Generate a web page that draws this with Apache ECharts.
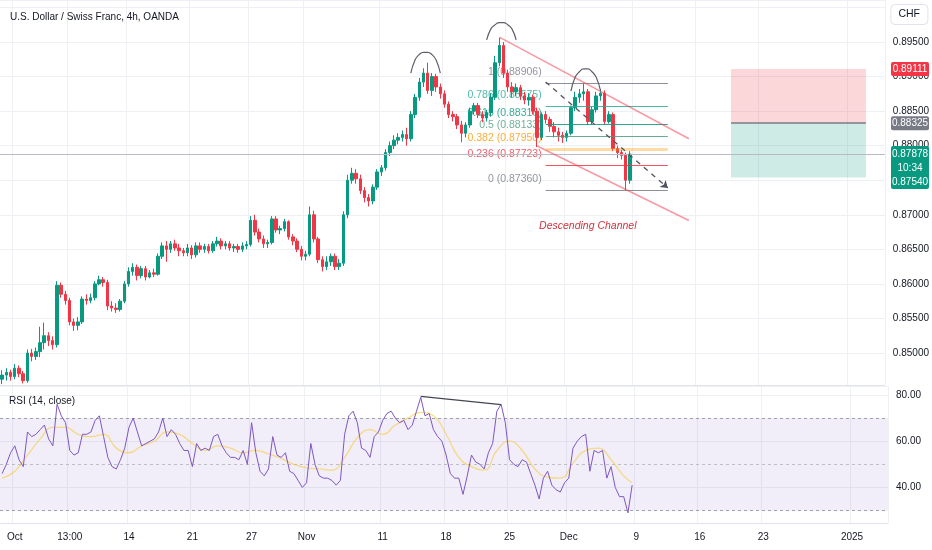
<!DOCTYPE html>
<html><head><meta charset="utf-8">
<script src="https://cdn.jsdelivr.net/npm/echarts@6/dist/echarts.min.js"></script>
<style>html,body{margin:0;padding:0;background:#fff}#c{width:932px;height:550px}</style>
</head><body><div id="c"></div>
<script>
// ---------- DATA ----------
const categoryCount = 210; // 8h slots, Sep 30 2024 .. early Jan 2025
const tickIndex = [3, 16, 30, 45, 59, 72, 90, 105, 120, 134, 150, 165, 180, 201];
const tickText  = ['Oct', '13:00', '14', '21', '27', 'Nov', '11', '18', '25', 'Dec', '9', '16', '23', '2025'];
const priceLabelMax = 0.8975; // labels above this sit under the CHF box

// [open, close, low, high]
const candles = [
[.8462,.8468,.8455,.8475],[.8468,.8472,.8460,.8478],[.8472,.8466,.8460,.8476],[.8466,.8478,.8462,.8484],
[.8478,.8470,.8465,.8482],[.8470,.8460,.8456,.8474],[.8460,.8500,.8457,.8505],[.8500,.8495,.8488,.8506],
[.8495,.8502,.8490,.8508],[.8502,.8515,.8494,.8538],[.8515,.8525,.8505,.8544],[.8525,.8518,.8510,.8530],
[.8518,.8512,.8505,.8524],[.8512,.8598,.8508,.8604],[.8598,.8585,.8580,.8602],[.8585,.8576,.8570,.8590],
[.8576,.8545,.8540,.8580],[.8545,.8540,.8532,.8550],[.8540,.8545,.8533,.8552],[.8545,.8578,.8542,.8582],
[.8578,.8576,.8570,.8585],[.8576,.8580,.8572,.8586],[.8580,.8600,.8576,.8604],[.8600,.8606,.8598,.8612],
[.8606,.8602,.8596,.8610],[.8602,.8568,.8562,.8606],[.8568,.8565,.8560,.8575],[.8565,.8563,.8558,.8572],
[.8563,.8575,.8560,.8578],[.8575,.8600,.8572,.8604],[.8600,.8618,.8596,.8624],[.8618,.8624,.8612,.8630],
[.8624,.8612,.8605,.8628],[.8612,.8622,.8608,.8626],[.8622,.8610,.8605,.8626],[.8610,.8616,.8608,.8620],
[.8616,.8614,.8610,.8622],[.8614,.8640,.8612,.8644],[.8640,.8655,.8636,.8660],[.8655,.8650,.8632,.8662],
[.8650,.8658,.8645,.8662],[.8658,.8652,.8648,.8664],[.8652,.8648,.8640,.8658],[.8648,.8645,.8640,.8652],
[.8645,.8652,.8640,.8658],[.8652,.8642,.8636,.8656],[.8642,.8655,.8638,.8660],[.8655,.8650,.8645,.8660],
[.8650,.8654,.8645,.8658],[.8654,.8648,.8644,.8658],[.8648,.8658,.8645,.8662],[.8658,.8662,.8654,.8668],
[.8662,.8655,.8650,.8666],[.8655,.8658,.8650,.8662],[.8658,.8652,.8648,.8662],[.8652,.8654,.8646,.8658],
[.8654,.8650,.8645,.8658],[.8650,.8655,.8646,.8660],[.8655,.8657,.8650,.8662],[.8657,.8692,.8654,.8698],
[.8692,.8675,.8670,.8700],[.8675,.8665,.8660,.8680],[.8665,.8658,.8652,.8670],[.8658,.8660,.8652,.8664],
[.8660,.8694,.8657,.8698],[.8694,.8678,.8674,.8698],[.8678,.8680,.8672,.8684],[.8680,.8690,.8676,.8694],
[.8690,.8668,.8664,.8692],[.8668,.8662,.8656,.8672],[.8662,.8650,.8646,.8666],[.8650,.8640,.8634,.8655],
[.8640,.8643,.8634,.8648],[.8643,.8700,.8640,.8712],[.8700,.8665,.8660,.8706],[.8665,.8635,.8630,.8668],
[.8635,.8625,.8618,.8640],[.8625,.8632,.8620,.8640],[.8632,.8640,.8626,.8644],[.8640,.8625,.8620,.8644],
[.8625,.8630,.8620,.8636],[.8630,.8700,.8626,.8705],[.8700,.8750,.8695,.8758],[.8750,.8760,.8745,.8768],
[.8760,.8752,.8745,.8766],[.8752,.8735,.8730,.8758],[.8735,.8725,.8718,.8740],[.8725,.8720,.8712,.8730],
[.8720,.8740,.8715,.8744],[.8740,.8762,.8736,.8766],[.8762,.8768,.8756,.8772],[.8768,.8790,.8764,.8795],
[.8790,.8800,.8785,.8806],[.8800,.8808,.8795,.8815],[.8808,.8812,.8802,.8818],[.8812,.8816,.8806,.8822],
[.8816,.8810,.8800,.8826],[.8810,.8845,.8806,.8850],[.8845,.8870,.8840,.8875],[.8870,.8892,.8865,.8898],
[.8892,.8905,.8885,.8912],[.8905,.8880,.8875,.8920],[.8880,.8900,.8872,.8905],[.8900,.8885,.8878,.8904],
[.8885,.8875,.8868,.8890],[.8875,.8860,.8855,.8880],[.8860,.8845,.8840,.8864],[.8845,.8842,.8835,.8850],
[.8842,.8830,.8824,.8846],[.8830,.8818,.8805,.8836],[.8818,.8830,.8812,.8834],[.8830,.8850,.8826,.8855],
[.8850,.8858,.8845,.8862],[.8858,.8845,.8840,.8862],[.8845,.8840,.8834,.8850],[.8840,.8848,.8835,.8852],
[.8848,.8870,.8842,.8876],[.8870,.8920,.8866,.8930],[.8920,.8945,.8915,.8956],[.8945,.8905,.8898,.8950],
[.8905,.8885,.8878,.8910],[.8885,.8878,.8870,.8892],[.8878,.8884,.8872,.8890],[.8884,.8872,.8866,.8888],
[.8872,.8866,.8860,.8878],[.8866,.8870,.8858,.8876],[.8870,.8850,.8845,.8874],[.8850,.8812,.8798,.8855],
[.8812,.8845,.8808,.8848],[.8845,.8838,.8832,.8850],[.8838,.8828,.8820,.8842],[.8828,.8820,.8812,.8834],
[.8820,.8815,.8806,.8826],[.8815,.8812,.8804,.8820],[.8812,.8818,.8806,.8822],[.8818,.8855,.8815,.8858],
[.8855,.8870,.8850,.8878],[.8870,.8875,.8862,.8882],[.8875,.8878,.8865,.8890],[.8878,.8835,.8830,.8882],
[.8835,.8852,.8830,.8856],[.8852,.8872,.8848,.8878],[.8872,.8876,.8865,.8882],[.8876,.8835,.8830,.8880],
[.8835,.8845,.8832,.8850],[.8845,.8796,.8792,.8848],[.8796,.8790,.8782,.8800],[.8790,.8786,.8780,.8794],
[.8786,.8750,.8736,.8790],[.8750,.87878,.8745,.8792]
];

const rsi = [
46,50,55,58,52,49,64,62,63,65,67,61,58,76,71,68,56,54,55,63,
63,64,69,71,62,53,49,48,52,57,66,70,64,58,59,60,61,64,70,62,
65,63,59,56,56,49,59,56,57,56,62,63,58,55,53,53,52,56,50,68,
55,47,45,48,62,54,53,55,47,46,43,40,42,59,50,45,44,44,43,41,
43,63,71,73,68,57,56,53,62,64,69,72,73,70,68,69,65,67,73,79,
71,72,65,62,60,54,46,44,44,37,45,54,51,50,48,55,59,73,76,68,
52,50,49,52,51,46,41,35,44,47,41,39,38,42,44,57,60,62,63,47,
56,55,56,44,49,40,36,36,29,41
];
const maBars = [0,3,6,9,12,15,18,21,24,27,30,33,36,39,42,45,48,51,54,57,60,63,66,69,72,75,78,81,84,87,90,93,96,99,102,105,108,111,114,117,120,123,126,129,132,135,138,141,144,147,149];
const maVals = [44,47,54,61,66,66,63,62,63,57,55,58,60,64,63,59,56,58,57,55,56,54.5,52.5,50,48.5,48,47.5,53,61.5,65,63,67,70,72.5,71,63,53,49,47.5,56,60,56,48,44.5,44,50.5,56,57,52,45,42];

const divergence = [[99, 79.4], [118, 75.8]];

const arcs = [
  [[97,.8905],[98,.8924],[99,.8932],[100,.8935],[101,.8935],[102,.8932],[103,.8924],[104,.8905]],
  [[115,.8953],[116,.8969],[117,.8975],[118,.8978],[119,.8978],[120,.8975],[121,.8969],[122,.8953]],
  [[135,.8879],[136,.8899],[137,.8907],[138,.8911],[139,.8911],[140,.8907],[141,.8899],[142,.8880]]
];

const fibNames  = ['1', '0.786', '0.618', '0.5', '0.382', '0.236', '0'];
const fibLevels = [0.88906, 0.88575, 0.88316, 0.88133, 0.87950, 0.87723, 0.87360];
const fibColors = ['#787b86', '#22ab94', '#089981', '#4c9a7e', '#ff9800', '#f23645', '#787b86'];
const fibStart = 129, fibEnd = 158;

const channelUpper = [[118, 0.8957], [163, 0.8810]];
const channelLower = [[127, 0.87995], [163, 0.86917]];
const projection   = [[129, 0.88921], [158, 0.87387]];

const lastPrice = 0.87878, countdown = '10:34';
const stopPrice = 0.89111, entryPrice = 0.88325, targetPrice = 0.87540;
const boxStart = 173, boxEnd = 205;
const channelText = {x: 139, y: 0.8683, text: 'Descending Channel'};

// ---------- CHART ----------
const FONT = "'Liberation Sans Narrow','Liberation Sans',sans-serif";
const FS = 10;
const categories = Array.from({length: categoryCount}, (_, i) => String(i));
const tickSet = new Set(tickIndex);
const chart = echarts.init(document.getElementById('c'), null, {renderer: 'canvas'});

const gridLine = {show: true, lineStyle: {color: '#eef0f4', width: 1}};
const xSplit = {show: true, interval: (i) => tickSet.has(i), lineStyle: {color: '#eef0f4', width: 1}};

const option = {
  animation: false,
  backgroundColor: '#ffffff',
  textStyle: {fontFamily: FONT},
  title: [
    {text: 'U.S. Dollar / Swiss Franc, 4h, OANDA', left: 5, top: 7, z: 10,
     textStyle: {fontSize: FS, fontWeight: 'normal', color: '#131722', fontFamily: FONT}},
    {text: 'RSI (14, close)', left: 4, top: 391, z: 10,
     textStyle: {fontSize: FS, fontWeight: 'normal', color: '#131722', fontFamily: FONT}},
    {text: 'CHF', right: 4, top: 4, padding: [5, 8], borderColor: '#e0e3eb', borderWidth: 1, borderRadius: 4,
     backgroundColor: '#ffffff', z: 20,
     textStyle: {fontSize: 10.5, fontWeight: 'normal', color: '#131722', fontFamily: FONT}}
  ],
  grid: [
    {left: 0, right: 44, top: 0, height: 385},
    {left: 0, right: 44, top: 386, height: 137}
  ],
  xAxis: [
    {type: 'category', gridIndex: 0, data: categories, boundaryGap: true,
     axisLine: {show: true, lineStyle: {color: '#e0e3eb'}}, axisTick: {show: false}, axisLabel: {show: false},
     splitLine: xSplit},
    {type: 'category', gridIndex: 1, data: categories, boundaryGap: true,
     axisLine: {show: true, lineStyle: {color: '#e0e3eb'}}, axisTick: {show: false},
     axisLabel: {show: true, interval: (i) => tickSet.has(i), formatter: (v, i) => tickText[tickIndex.indexOf(i)] || '',
       color: '#131722', fontSize: FS, margin: 9, fontFamily: FONT},
     splitLine: xSplit}
  ],
  yAxis: [
    {type: 'value', gridIndex: 0, position: 'right', min: 0.84537, max: 0.90108, splitNumber: 11, scale: true,
     axisLine: {show: false}, axisTick: {show: false},
     axisLabel: {formatter: (v) => (v > priceLabelMax ? '' : v.toFixed(5)), color: '#131722', fontSize: FS, margin: 8,
       showMinLabel: false, showMaxLabel: false, fontFamily: FONT},
     splitLine: gridLine},
    {type: 'value', gridIndex: 1, position: 'right', min: 24.6, max: 83.9, splitNumber: 3,
     axisLine: {show: false}, axisTick: {show: false},
     axisLabel: {formatter: (v) => v.toFixed(2), color: '#131722', fontSize: FS, margin: 8, showMinLabel: false, showMaxLabel: false, fontFamily: FONT},
     splitLine: gridLine}
  ],
  series: [
    // fib labels (under candles)
    {type: 'scatter', xAxisIndex: 0, yAxisIndex: 0, symbolSize: 0, z: 1, silent: true,
     data: fibLevels.map((p, k) => ({value: [fibStart, p], name: fibNames[k] + ' (' + p.toFixed(5) + ')',
       label: {color: fibColors[k]}})),
     label: {show: true, position: 'left', distance: 4, offset: [0, -11], formatter: (d) => d.name, fontSize: 10.5, fontFamily: FONT}
    },
    {type: 'candlestick', xAxisIndex: 0, yAxisIndex: 0, data: candles, barWidth: 3, z: 3,
     itemStyle: {color: '#089981', color0: '#f23645', borderColor: '#089981', borderColor0: '#f23645', borderWidth: 1},
     markArea: {silent: true, z: 1, data: [
       [{coord: [boxStart, stopPrice], itemStyle: {color: 'rgba(242,54,69,0.2)'}}, {coord: [boxEnd, entryPrice]}],
       [{coord: [boxStart, entryPrice], itemStyle: {color: 'rgba(8,153,129,0.2)'}}, {coord: [boxEnd, targetPrice]}]
     ]},
     markLine: {silent: true, precision: 6, symbol: ['none', 'none'], label: {show: false}, animation: false, z: 4,
       data: [
         {yAxis: lastPrice, lineStyle: {color: '#b8bbc4', width: 1, type: 'solid'}},
         [{coord: [boxStart, entryPrice], lineStyle: {color: '#787b86', width: 1.5, type: 'solid'}}, {coord: [boxEnd, entryPrice]}],
         ...fibLevels.map((p, k) => [{coord: [fibStart, p], lineStyle: k === 4
             ? {color: 'rgba(255,152,0,0.35)', width: 3, type: 'solid'}
             : {color: fibColors[k], width: 1, type: 'solid', opacity: 0.85}}, {coord: [fibEnd, p]}]),
         [{coord: channelUpper[0], lineStyle: {color: 'rgba(242,54,69,0.5)', width: 1.5, type: 'solid'}}, {coord: channelUpper[1]}],
         [{coord: channelLower[0], lineStyle: {color: 'rgba(242,54,69,0.5)', width: 1.5, type: 'solid'}}, {coord: channelLower[1]}],
         [{coord: projection[0], symbol: 'none', lineStyle: {color: '#50535e', width: 1.3, type: [5, 5]}},
          {coord: projection[1], symbol: 'arrow', symbolSize: 7}]
       ]},
     markPoint: {silent: true, symbolSize: 0, data: [
       {coord: [channelText.x, channelText.y], symbol: 'circle', symbolSize: 0,
        label: {show: true, formatter: channelText.text, position: 'inside', color: '#d1313c', fontStyle: 'italic', fontSize: 10.5, fontFamily: FONT}}
     ]}
    },
    ...arcs.map((a) => ({type: 'line', xAxisIndex: 0, yAxisIndex: 0, data: a, smooth: 0.5, symbol: 'none', z: 5,
      silent: true, lineStyle: {color: '#5d606b', width: 1.2}})),
    // RSI pane
    {type: 'line', xAxisIndex: 1, yAxisIndex: 1, data: rsi, symbol: 'none', z: 3,
     lineStyle: {color: '#7e57c2', width: 1},
     markArea: {silent: true, z: 0, data: [[{yAxis: 30, itemStyle: {color: 'rgba(126,87,194,0.1)'}}, {yAxis: 70}]]},
     markLine: {silent: true, symbol: ['none', 'none'], label: {show: false}, z: 2, data: [
       {yAxis: 70, lineStyle: {color: '#8a8d96', width: 1, type: [3, 3], opacity: 0.8}},
       {yAxis: 50, lineStyle: {color: '#8a8d96', width: 1, type: [3, 3], opacity: 0.5}},
       {yAxis: 30, lineStyle: {color: '#8a8d96', width: 1, type: [3, 3], opacity: 0.8}}
     ]}
    },
    {type: 'line', xAxisIndex: 1, yAxisIndex: 1, data: maBars.map((b, k) => [b, maVals[k]]), symbol: 'none', smooth: 0.5, z: 2,
     lineStyle: {color: 'rgba(247,198,38,0.55)', width: 1.3}},
    {type: 'line', xAxisIndex: 1, yAxisIndex: 1, data: divergence, symbol: 'none', z: 4,
     lineStyle: {color: '#434651', width: 1.2}}
  ]
};
chart.setOption(option);

// price tags on the right scale, placed through the axis scale
const gridRight = 932 - 44;
function py(p) { return chart.convertToPixel({yAxisIndex: 0}, p); }
const TAGW = 38, TAGH = 14;
function tagText(txt, cy) {
  return {type: 'text', x: gridRight + 3 + TAGW / 2, y: cy, z: 101,
    style: {text: txt, fill: '#ffffff', font: FS + 'px ' + FONT, align: 'center', verticalAlign: 'middle'}};
}
function tagRect(top, h, color) {
  return {type: 'rect', shape: {x: gridRight + 3, y: top, width: TAGW, height: h, r: 2}, z: 100,
    style: {fill: color}};
}
const yStop = py(stopPrice), yEntry = py(entryPrice), yLast = py(lastPrice);
chart.setOption({graphic: [
  tagRect(yStop - TAGH / 2, TAGH, '#f23645'), tagText(stopPrice.toFixed(5), yStop),
  tagRect(yEntry - TAGH / 2, TAGH, '#787b86'), tagText(entryPrice.toFixed(5), yEntry),
  tagRect(yLast - TAGH / 2 - 1, TAGH * 3 + 1, '#089981'),
  tagText(lastPrice.toFixed(5), yLast), tagText(countdown, yLast + TAGH), tagText(targetPrice.toFixed(5), yLast + 2 * TAGH)
]});
</script>
</body></html>
